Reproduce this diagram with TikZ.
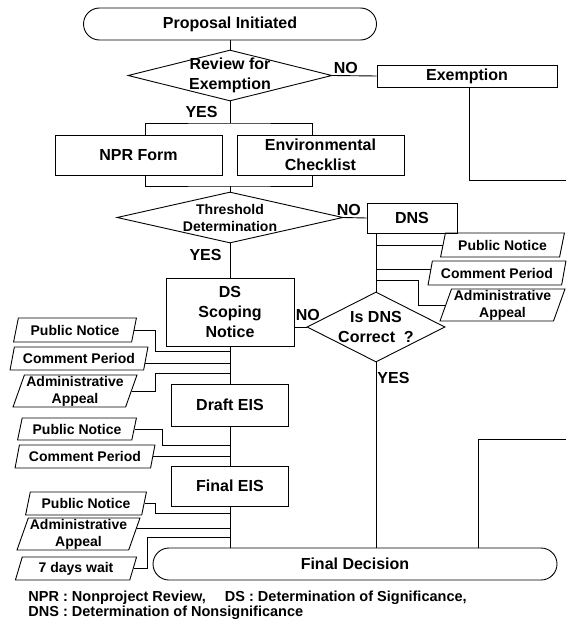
\documentclass[tikz,border=0pt]{standalone}
\usepackage{fontspec}
\setmainfont{Liberation Sans}
\usetikzlibrary{shapes.geometric}

\begin{document}
\begin{tikzpicture}[x=1pt,y=-1pt,line width=0.9pt,
    every node/.style={font=\bfseries\fontsize{16}{20}\selectfont,inner sep=0pt,align=center},
    box/.style={draw,rectangle},
    term/.style={draw,rectangle,rounded corners=16pt,minimum height=32},
    decide/.style={draw,diamond},
    paper/.style={draw,trapezium,trapezium left angle=70,trapezium right angle=110,
      trapezium stretches=true,font=\bfseries\fontsize{14}{17}\selectfont},
    tag/.style={inner sep=1pt}]
  \useasboundingbox (0,0) rectangle (566,626);

  % main line
  \node[term,minimum width=293] (start) at (230,24) {Proposal Initiated};
  \node[decide,minimum width=204,minimum height=51,
    label={center:Review for\\Exemption}] (review) at (230,75.5) {};
  \node[box,minimum width=180,minimum height=22] (exempt) at (467,76) {Exemption};
  \node[box,minimum width=167,minimum height=40] (npr) at (138.5,155) {NPR Form};
  \node[box,minimum width=167,minimum height=40] (envcheck) at (320.5,155) {Environmental\\Checklist};
  \node[decide,minimum width=226,minimum height=51,
    label={[font=\bfseries\fontsize{14}{17}\selectfont]center:Threshold\\Determination}] (thresh) at (230,217.5) {};
  \node[box,minimum width=90,minimum height=30] (dns) at (412,218) {DNS};
  \node[decide,minimum width=138,minimum height=70,
    label={center:Is DNS\\Correct~~?}] (isdns) at (376,327) {};
  \node[box,minimum width=128,minimum height=68] (ds) at (230,312) {DS\\Scoping\\Notice};
  \node[box,minimum width=117,minimum height=42] (draft) at (230,405) {Draft EIS};
  \node[box,minimum width=117,minimum height=40] (final) at (230,486) {Final EIS};
  \node[term,minimum width=404] (decision) at (355,564) {Final Decision};

  % DNS side
  \node[paper,minimum width=125,minimum height=24] (pnR) at (502.5,245) {Public Notice};
  \node[paper,minimum width=138,minimum height=24] (cpR) at (497,273) {Comment Period};
  \node[paper,minimum width=125,minimum height=32] (aaR) at (502.5,305) {Administrative\\Appeal};

  % EIS side
  \node[paper,minimum width=124,minimum height=24] (pn1) at (75,330) {Public Notice};
  \node[paper,minimum width=138,minimum height=23] (cp1) at (79,358.5) {Comment Period};
  \node[paper,minimum width=124,minimum height=32] (aa1) at (75,391) {Administrative\\Appeal};
  \node[paper,minimum width=120,minimum height=22] (pn2) at (77,429) {Public Notice};
  \node[paper,minimum width=140,minimum height=23] (cp2) at (85,456.5) {Comment Period};
  \node[paper,minimum width=122,minimum height=23] (pn3) at (86,503.5) {Public Notice};
  \node[paper,minimum width=123,minimum height=32] (aa3) at (78.5,534) {Administrative\\Appeal};
  \node[paper,minimum width=122,minimum height=23] (wait) at (76,568.5) {7 days wait};

  \node[anchor=west,align=left,font=\bfseries\fontsize{14.5}{15}\selectfont] (note) at (28,605.5)
    {NPR : Nonproject Review,\hspace{19pt}DS : Determination of Significance,\\DNS : Determination of Nonsignificance};

  \coordinate (bus1) at (230,123);
  \coordinate (bus2) at (230,186);
  \coordinate (exempt-out) at (566,180);
  \coordinate (exempt-in) at (566,439);
  \coordinate (aaR-bend) at (418,280);
  \coordinate (pn1-bend) at (155,351);
  \coordinate (aa1-bend) at (155,373);
  \coordinate (pn2-bend) at (162,445);
  \coordinate (pn3-bend) at (155,513);
  \coordinate (wait-bend) at (147,537);

  \draw (start) -- (review);
  \draw (review.east) -- node[tag,pos=0,anchor=south west]{NO} (exempt.west);
  \draw (review) -- node[tag,left=11pt]{YES} (bus1);
  \draw ([xshift=6.5]npr.north) |- (bus1) -| ([xshift=-8.5]envcheck.north);
  \draw ([xshift=6.5]npr.south) |- (bus2) -| ([xshift=-8.5]envcheck.south);
  \draw (bus2) -- (thresh);
  \draw ([xshift=2.5]exempt.south) |- (exempt-out);
  \draw (exempt-in) -| ([xshift=123]decision.north);

  \draw (thresh.east) -- node[tag,pos=0,anchor=south west,xshift=-8pt]{NO} (dns.west);
  \draw (thresh) -- node[tag,pos=0.35,left=7pt]{YES} (ds);
  \draw (dns.south -| isdns.north) -- (isdns.north);
  \draw (pnR.left side) -- (pnR.left side -| isdns.north);
  \draw ([xshift=1.5pt,yshift=4pt]cpR.left side) -- ([yshift=4pt]cpR.left side -| isdns.north);
  \draw (aaR.left side) -| (aaR-bend) -- (aaR-bend -| isdns.north);
  \draw (isdns.west) -- node[tag,pos=1,anchor=south west,yshift=5pt]{NO} (isdns.west -| ds.east);
  \draw (isdns) -- node[tag,pos=0,anchor=north west,yshift=-8pt]{YES} (isdns.south |- decision.north);

  \draw (ds) -- (draft);
  \draw (draft) -- (final);
  \draw (final) -- (final |- decision.north);
  \draw (pn1.right side) -| (pn1-bend) -- (pn1-bend -| ds.south);
  \draw ([xshift=-1.6pt,yshift=-4.5pt]cp1.right side) -- ([yshift=-4.5pt]cp1.right side -| ds.south);
  \draw (aa1.right side) -| (aa1-bend) -- (aa1-bend -| ds.south);
  \draw (pn2.right side) -| (pn2-bend) -- (pn2-bend -| draft.south);
  \draw (cp2.right side) -- (cp2.right side -| draft.south);
  \draw (pn3.right side) -| (pn3-bend) -- (pn3-bend -| final.south);
  \draw ([xshift=2.2pt,yshift=6pt]aa3.right side) -- ([yshift=6pt]aa3.right side -| final.south);
  \draw (wait.right side) -| (wait-bend) -- (wait-bend -| final.south);
\end{tikzpicture}
\end{document}
